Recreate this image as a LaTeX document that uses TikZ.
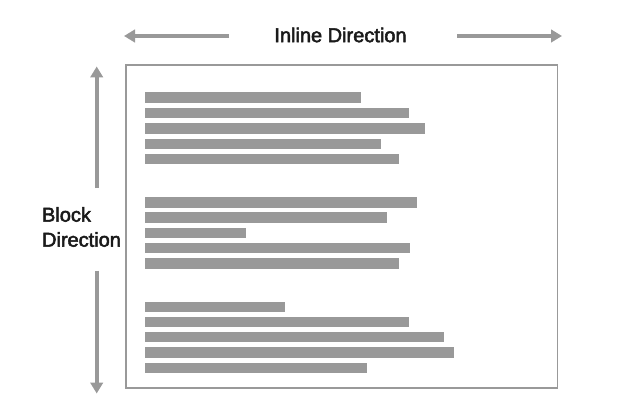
\documentclass[tikz,border=0pt]{standalone}
\usepackage{fontspec}
\setmainfont{Liberation Sans}
\newfontfamily\lblfont[FakeBold=2.5]{Liberation Sans}
\usetikzlibrary{arrows.meta}
\definecolor{bargray}{HTML}{999999}
\definecolor{txt}{HTML}{1A1A1A}
\tikzset{
  bar/.style={fill=bargray, draw=none},
  dirarrow/.style={draw=bargray, line width=4pt, -{Triangle[length=11pt,width=12.5pt]}},
  frame/.style={draw=bargray, line width=1.5pt},
  lbl/.style={text=txt, font=\lblfont\fontsize{20pt}{25pt}\selectfont, inner sep=0pt}
}
\begin{document}
\begin{tikzpicture}[x=1pt,y=-1pt]
\useasboundingbox (0,0) rectangle (631,414);
% frame
\draw[frame] (126,65) rectangle (557.5,388);
% labels
\node[lbl] (inl) at (340.5,35) {Inline Direction};
\node[lbl, align=left] (blk) at (81.5,227) {Block\\Direction};
% arrows
\coordinate (hl0) at (229,36);
\coordinate (hl1) at (124,36);
\coordinate (hr0) at (457,36);
\coordinate (hr1) at (562,36);
\coordinate (vt0) at (96.7,188);
\coordinate (vt1) at (96.7,66.5);
\coordinate (vb0) at (96.7,270.5);
\coordinate (vb1) at (96.7,393.5);
\draw[dirarrow] (hl0) -- (hl1);
\draw[dirarrow] (hr0) -- (hr1);
\draw[dirarrow] (vt0) -- (vt1);
\draw[dirarrow] (vb0) -- (vb1);
% group 1
\fill[bar] (145,92.5) rectangle (360.7,103);
\fill[bar] (145,108) rectangle (409.3,118.5);
\fill[bar] (145,123.3) rectangle (425.3,133.8);
\fill[bar] (145,138.7) rectangle (380.7,149.2);
\fill[bar] (145,154) rectangle (399.3,164.5);
% group 2
\fill[bar] (145,197.3) rectangle (416.7,207.8);
\fill[bar] (145,212.3) rectangle (386.7,222.8);
\fill[bar] (145,227.7) rectangle (246,238.2);
\fill[bar] (145,242.5) rectangle (410.3,253);
\fill[bar] (145,258.3) rectangle (399.3,268.8);
% group 3
\fill[bar] (145,301.5) rectangle (285,312);
\fill[bar] (145,316.7) rectangle (409.3,327.2);
\fill[bar] (145,331.9) rectangle (444,342.4);
\fill[bar] (145,347.3) rectangle (454,357.8);
\fill[bar] (145,362.7) rectangle (367.3,373.2);
\end{tikzpicture}
\end{document}
